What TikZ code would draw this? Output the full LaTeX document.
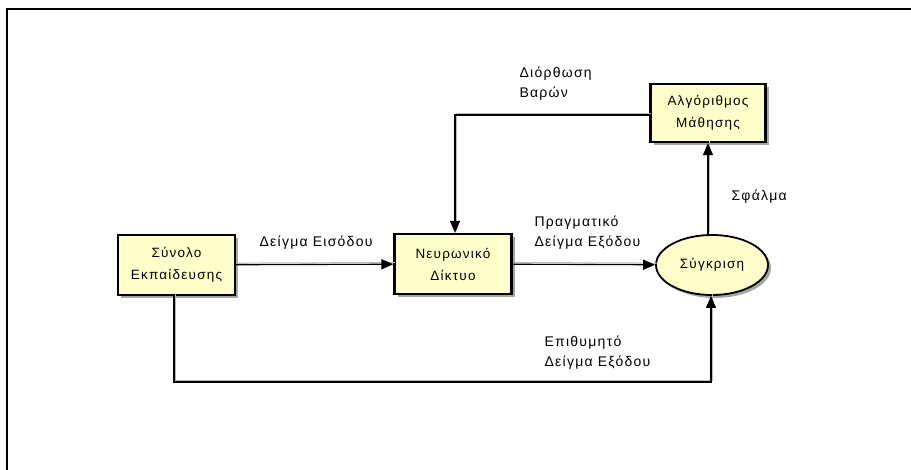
\documentclass[tikz,border=0pt]{standalone}
\usepackage{fontspec}
\setmainfont{Liberation Sans}[LetterSpace = 9]
\usetikzlibrary{arrows.meta,shadows,shapes.geometric}
\definecolor{boxfill}{HTML}{FFFFCC}
\begin{document}
\begin{tikzpicture}[x=1pt, y=-1pt,
		blok/.style = {draw, line width = 2.2pt, fill = boxfill, align = center,
			minimum width = 117pt, minimum height = 60pt, font = \fontsize{13.5}{22}\selectfont,
			drop shadow = {shadow xshift = 3pt, shadow yshift = -3pt, fill = gray!70, opacity = 1}},
		elips/.style = {blok, ellipse, line width = 1.8pt, minimum width = 112pt, minimum height = 60pt},
		lijn/.style = {line width = 1.1pt, -{Triangle[length = 12pt, width = 10pt]},
			preaction = {draw = gray!55, line width = 1.2pt, -, transform canvas = {shift = {(1.6pt, 1.6pt)}}}},
		tekst/.style = {anchor = west, align = left, font = \fontsize{14}{20}\selectfont}]
	\useasboundingbox (0, 0) rectangle (911, 470);

	% kader
	\draw [line width = 2pt] (911, 9) -- (7, 9) -- (7, 470);

	\node [blok] (synolo) at (176.5, 265) {Σύνολο\\Εκπαίδευσης};
	\node [blok] (diktyo) at (453, 264) {Νευρωνικό\\Δίκτυο};
	\node [elips] (sygkrisi) at (712, 265) {Σύγκριση};
	\node [blok, minimum width = 115pt, minimum height = 58pt] (algorithmos) at (708, 113) {Αλγόριθμος\\Μάθησης};

	\coordinate (k1) at (455, 115);
	\coordinate (k2) at (174, 382);
	\coordinate (k3) at (711, 382);

	\draw [lijn] (synolo) -- (diktyo);
	\draw [lijn] (diktyo) -- (sygkrisi);
	\draw [lijn] (sygkrisi.north -| algorithmos) -- (algorithmos);
	\draw [lijn] (algorithmos.west |- k1) -- (k1) -- (k1 |- diktyo.north);
	\draw [lijn] (k2 |- synolo.south) -- (k2) -- (k3) -- (k3 |- sygkrisi.south);

	\node [tekst] (l1) at (256, 243) {Δείγμα Εισόδου};
	\node [tekst] (l2) at (531, 233) {Πραγματικό\\Δείγμα Εξόδου};
	\node [tekst] (l3) at (541, 353) {Επιθυμητό\\Δείγμα Εξόδου};
	\node [tekst] (l4) at (516, 84) {Διόρθωση\\Βαρών};
	\node [tekst] (l5) at (728, 197) {Σφάλμα};
\end{tikzpicture}
\end{document}
